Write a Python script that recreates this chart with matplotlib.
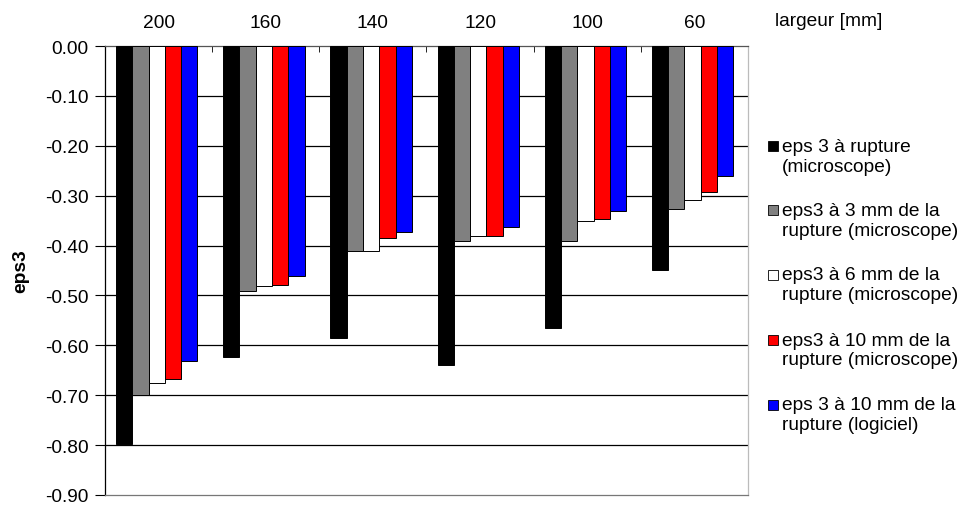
import numpy as np
import matplotlib.pyplot as plt
from matplotlib.patches import Rectangle

plt.rcParams['font.family'] = ['Liberation Sans', 'DejaVu Sans']

largeurs = ['200', '160', '140', '120', '100', '60']
series_labels = [
    ('eps 3 à rupture', '(microscope)'),
    ('eps3 à 3 mm de la', 'rupture (microscope)'),
    ('eps3 à 6 mm de la', 'rupture (microscope)'),
    ('eps3 à 10 mm de la', 'rupture (microscope)'),
    ('eps 3 à 10 mm de la', 'rupture (logiciel)'),
]
eps3_rupture = [-0.797, -0.624, -0.586, -0.640, -0.566, -0.449]
eps3_3mm = [-0.700, -0.491, -0.410, -0.391, -0.390, -0.326]
eps3_6mm = [-0.675, -0.482, -0.411, -0.380, -0.350, -0.308]
eps3_10mm = [-0.667, -0.479, -0.385, -0.380, -0.347, -0.292]
eps3_10mm_logiciel = [-0.631, -0.461, -0.373, -0.363, -0.331, -0.261]
colors = ['#000000', '#808080', '#ffffff', '#ff0000', '#0000ff']

series = [eps3_rupture, eps3_3mm, eps3_6mm, eps3_10mm, eps3_10mm_logiciel]

FS = 13.8
W, H = 964, 506
fig = plt.figure(figsize=(W/100, H/100), dpi=100)
ax = fig.add_axes([105/W, 1-496/H, (748-105)/W, (496-47)/H])

x = np.arange(len(largeurs))
w = 0.152
for i, (vals, c) in enumerate(zip(series, colors)):
    ax.bar(x + (i - 2) * w - 0.017, vals, width=w, color=c, edgecolor='black',
           linewidth=0.7, zorder=3)

ax.set_xlim(-0.5, len(largeurs) - 0.5)
ax.set_ylim(-0.9, 0)
yt = np.round(np.arange(0, -0.91, -0.1), 2)
ax.set_yticks(yt)
ax.set_yticklabels(['0.00' if v == 0 else f'{v:.2f}' for v in yt], fontsize=FS)
for v in yt[1:-1]:
    ax.axhline(v, color='black', lw=0.9, zorder=1)

ax.xaxis.tick_top()
ax.set_xticks(x)
ax.set_xticklabels(largeurs, fontsize=FS)
ax.tick_params(axis='x', length=0, pad=11)
ax.set_xticks(np.arange(0.5, len(largeurs) - 0.5), minor=True)
ax.tick_params(axis='x', which='minor', direction='in', length=4,
               color='black', top=True, bottom=False)
ax.tick_params(axis='y', direction='out', length=7, width=0.8, pad=5)

ax.spines['top'].set_color('#555555')
ax.spines['left'].set_color('black')
ax.spines['bottom'].set_color('#777777')
ax.spines['right'].set_color('#bbbbbb')
for s in ax.spines.values():
    s.set_linewidth(0.9)

ax.set_ylabel('eps3', fontsize=FS, fontweight='bold')
ax.yaxis.set_label_coords((29-105)/643, 0.5)
fig.text(775/W, 1-21.5/H, 'largeur [mm]', fontsize=FS, va='center', ha='left')

# legend, square aligned with the first line of each entry
leg_y = [147, 211, 276, 341, 406]
for (l1, l2), c, y in zip(series_labels, colors, leg_y):
    fig.patches.append(Rectangle((768/W, 1-(y+5)/H), 10/W, 10/H,
                                 transform=fig.transFigure, facecolor=c,
                                 edgecolor='black', linewidth=0.6))
    fig.text(782/W, 1-y/H, l1, fontsize=FS, va='center', ha='left')
    fig.text(782/W, 1-(y+20)/H, l2, fontsize=FS, va='center', ha='left')

fig.savefig('out.png', dpi=100)
